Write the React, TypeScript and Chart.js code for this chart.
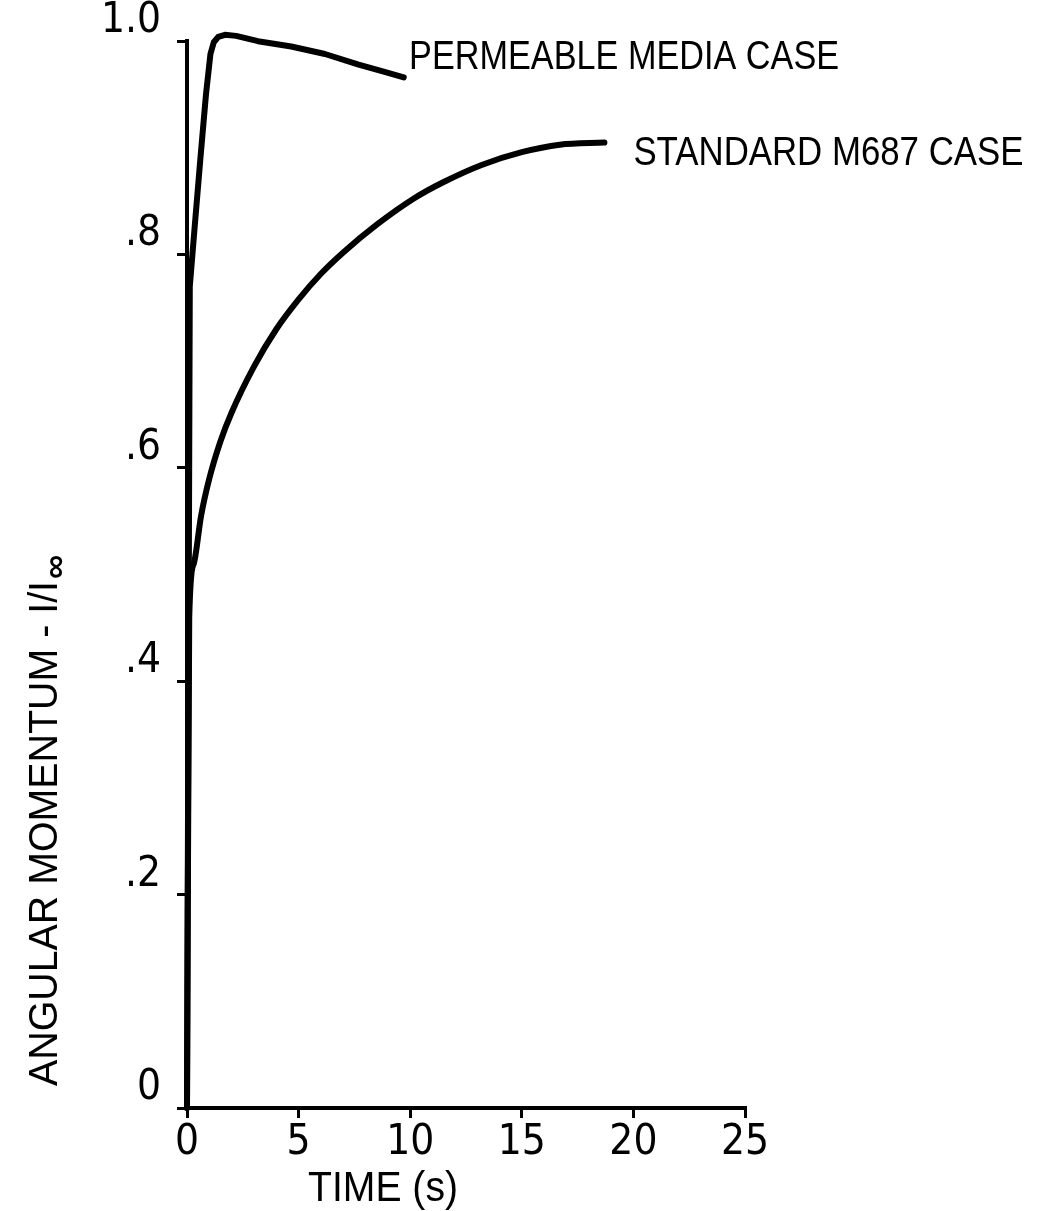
import React, { useEffect, useRef } from "react";
import { Chart, registerables } from "chart.js";

Chart.register(...registerables);

// ---- data (time in s, I/I∞) ----
const permeableTime = [0, 0.125, 0.36, 0.6, 0.85, 1.05, 1.2, 1.4, 1.7, 2.2, 3.18, 4.67, 6.18, 7.69, 8.89, 9.71];
const permeableValue = [0, 0.77, 0.83, 0.89, 0.95, 0.988, 0.999, 1.004, 1.006, 1.005, 1.0, 0.995, 0.988, 0.978, 0.971, 0.966];

const standardTime = [0, 0.1, 0.3, 0.63, 1.0, 1.5, 2.0, 3.0, 4.0, 5.0, 6.0, 7.0, 8.5, 10.2, 11.5, 13.2, 15.0, 16.7, 18.7];
const standardValue = [0, 0.46, 0.51, 0.555, 0.59, 0.625, 0.652, 0.695, 0.73, 0.758, 0.782, 0.802, 0.828, 0.853, 0.868, 0.884, 0.896, 0.903, 0.905];

const xTickValues = [0, 5, 10, 15, 20, 25];
const xTickLabels = ["0", "5", "10", "15", "20", "25"];
const yTickValues = [0, 0.2, 0.4, 0.6, 0.8, 1.0];
const yTickLabels = ["0", ".2", ".4", ".6", ".8", "1.0"];

const seriesNames = ["PERMEABLE MEDIA CASE", "STANDARD M687 CASE"];
const xTitle = "TIME (s)";
const yTitleMain = "ANGULAR MOMENTUM - I/I";
const yTitleSub = "\u221E";

// label anchors (data space, left/baseline), layout only
const labelAnchors = [
  { x: 9.95, y: 0.9735, width: 430 },
  { x: 20.0, y: 0.884, width: 390 },
];

const TEXT_FONT = "'Liberation Sans', Arial, sans-serif";
const TICK_FONT = "'Liberation Sans Narrow', 'DejaVu Sans Condensed', 'Liberation Sans', sans-serif";

function drawScaled(ctx: CanvasRenderingContext2D, text: string, x: number, y: number, width: number, font: string, align: "left" | "center") {
  ctx.save();
  ctx.font = font;
  const w = ctx.measureText(text).width;
  const sx = width / w;
  ctx.translate(x, y);
  ctx.scale(sx, 1);
  ctx.textBaseline = "alphabetic";
  ctx.textAlign = align;
  ctx.fillText(text, 0, 0);
  ctx.restore();
}

export default function App() {
  const ref = useRef<HTMLCanvasElement>(null);

  useEffect(() => {
    const canvas = ref.current;
    if (!canvas) return;

    const bgPlugin = {
      id: "whiteBg",
      beforeDraw(chart: any) {
        const c = chart.ctx;
        c.save();
        c.fillStyle = "#ffffff";
        c.fillRect(0, 0, chart.width, chart.height);
        c.restore();
      },
    };

    const textPlugin = {
      id: "annotText",
      afterDraw(chart: any) {
        const ctx: CanvasRenderingContext2D = chart.ctx;
        const xs = chart.scales.x;
        const ys = chart.scales.y;
        const ca = chart.chartArea;
        ctx.save();
        ctx.fillStyle = "#000";
        // series labels
        seriesNames.forEach((name, i) => {
          const a = labelAnchors[i];
          drawScaled(ctx, name, xs.getPixelForValue(a.x), ys.getPixelForValue(a.y), a.width, `40px ${TEXT_FONT}`, "left");
        });
        // x title
        drawScaled(ctx, xTitle, ca.left + 196, ca.bottom + 93, 150, `42px ${TEXT_FONT}`, "center");
        // y title (rotated)
        ctx.save();
        ctx.translate(ca.left - 130, ca.bottom - 22);
        ctx.rotate(-Math.PI / 2);
        drawScaled(ctx, yTitleMain, 0, 0, 505, `40px ${TEXT_FONT}`, "left");
        ctx.font = `bold 34px ${TEXT_FONT}`;
        ctx.textAlign = "left";
        ctx.textBaseline = "alphabetic";
        ctx.fillText(yTitleSub, 507, 9);
        ctx.restore();
        ctx.restore();
      },
    };

    const permeableData = permeableTime.map((t, i) => ({ x: t, y: permeableValue[i] }));
    const standardData = standardTime.map((t, i) => ({ x: t, y: standardValue[i] }));

    const chart = new Chart(canvas, {
      type: "line",
      data: {
        datasets: [
          {
            label: seriesNames[0],
            data: permeableData,
            borderColor: "#000",
            borderWidth: 6,
            pointRadius: 0,
            tension: 0,
            borderCapStyle: "round",
            borderJoinStyle: "round",
            clip: false as any,
            fill: false,
          },
          {
            label: seriesNames[1],
            data: standardData,
            borderColor: "#000",
            borderWidth: 6,
            pointRadius: 0,
            cubicInterpolationMode: "monotone",
            borderCapStyle: "round",
            borderJoinStyle: "round",
            clip: false as any,
            fill: false,
          },
        ],
      },
      options: {
        animation: false,
        responsive: true,
        maintainAspectRatio: false,
        layout: { padding: { top: 40, right: 304, left: 0, bottom: 0 } },
        plugins: {
          legend: { display: false },
          tooltip: { enabled: false },
          title: { display: false },
        },
        scales: {
          x: {
            type: "linear",
            min: 0,
            max: 25,
            afterBuildTicks: (s: any) => {
              s.ticks = xTickValues.map((v) => ({ value: v }));
            },
            afterFit: (s: any) => {
              s.height = 103;
            },
            ticks: {
              autoSkip: false,
              maxRotation: 0,
              padding: 0,
              color: "#000",
              font: { family: TICK_FONT, size: 42 },
              callback: (v: any) => xTickLabels[xTickValues.indexOf(Number(v))] ?? "",
            },
            grid: {
              display: true,
              drawOnChartArea: false,
              drawTicks: true,
              tickLength: 10,
              color: "#000",
              lineWidth: 3,
            },
            border: { display: true, color: "#000", width: 4 },
          },
          y: {
            type: "linear",
            min: 0,
            max: 1,
            afterBuildTicks: (s: any) => {
              s.ticks = yTickValues.map((v) => ({ value: v }));
            },
            afterFit: (s: any) => {
              s.width = 187;
            },
            ticks: {
              autoSkip: false,
              padding: 16,
              labelOffset: -20,
              color: "#000",
              font: { family: TICK_FONT, size: 42 },
              callback: (v: any) => {
                const idx = yTickValues.findIndex((t) => Math.abs(t - Number(v)) < 1e-6);
                return idx >= 0 ? yTickLabels[idx] : "";
              },
            },
            grid: {
              display: true,
              drawOnChartArea: false,
              drawTicks: true,
              tickLength: 10,
              color: "#000",
              lineWidth: 3,
            },
            border: { display: true, color: "#000", width: 4 },
          },
        },
      },
      plugins: [bgPlugin, textPlugin],
    });

    return () => chart.destroy();
  }, []);

  return (
    <div style={{ position: "absolute", left: 0, top: 0, width: 1049, height: 1211, background: "#fff" }}>
      <canvas ref={ref} />
    </div>
  );
}
